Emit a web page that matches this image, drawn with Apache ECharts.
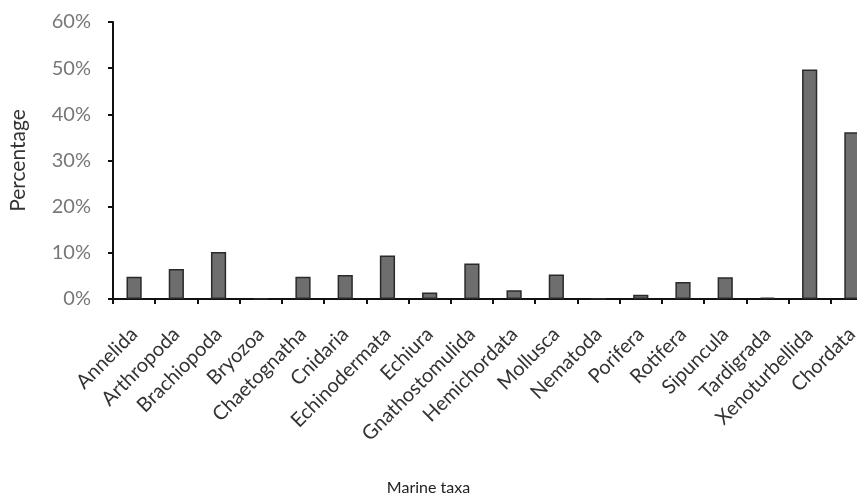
<!DOCTYPE html>
<html>
<head>
<meta charset="utf-8">
<script src="https://cdn.jsdelivr.net/npm/echarts@6/dist/echarts.min.js"></script>
<style>html,body{margin:0;padding:0;background:#fff;}#c{width:857px;height:498px;}</style>
</head>
<body>
<div id="c"></div>
<script>
const categories = ["Annelida","Arthropoda","Brachiopoda","Bryozoa","Chaetognatha","Cnidaria","Echinodermata","Echiura","Gnathostomulida","Hemichordata","Mollusca","Nematoda","Porifera","Rotifera","Sipuncula","Tardigrada","Xenoturbellida","Chordata"];
const percentages = [4.8, 6.5, 10.2, 0.1, 4.8, 5.2, 9.4, 1.4, 7.7, 1.9, 5.3, 0.1, 0.9, 3.7, 4.7, 0.3, 49.7, 36.1];
const yTicks = [0, 10, 20, 30, 40, 50, 60];
const yAxisTitle = "Percentage";
const xAxisTitle = "Marine taxa";

const chart = echarts.init(document.getElementById('c'), null, {renderer: 'canvas'});
const font = 'Lato, "Open Sans", sans-serif';
chart.setOption({
  animation: false,
  backgroundColor: '#fff',
  title: {
    text: xAxisTitle, left: 'center', bottom: -3,
    textStyle: {fontFamily: font, fontSize: 16, fontWeight: 'normal', color: '#222'}
  },
  grid: {left: 113, right: -16, top: 22, bottom: 199, containLabel: false, outerBoundsMode: 'none'},
  xAxis: {
    type: 'category', data: categories, boundaryGap: true,
    axisLine: {lineStyle: {color: '#111', width: 2}},
    axisTick: {show: true, length: 5, alignWithLabel: false, lineStyle: {color: '#111', width: 2}},
    axisLabel: {rotate: 45, interval: 0, margin: 32, fontFamily: font, fontSize: 20, color: '#333'}
  },
  yAxis: {
    type: 'value', min: yTicks[0], max: yTicks[yTicks.length - 1], interval: 10,
    name: yAxisTitle, nameLocation: 'middle', nameGap: 84,
    nameTextStyle: {fontFamily: font, fontSize: 21, color: '#333'},
    splitLine: {show: false},
    axisLine: {show: true, lineStyle: {color: '#111', width: 2}},
    axisTick: {show: true, length: 5, lineStyle: {color: '#111', width: 2}},
    axisLabel: {formatter: '{value}%', margin: 22, fontFamily: font, fontSize: 20, color: '#777'}
  },
  series: [{
    type: 'bar', data: percentages, barWidth: '36%',
    itemStyle: {color: '#6e6e6e', borderColor: '#2a2a2a', borderWidth: 1.5}
  }]
});
</script>
</body>
</html>
